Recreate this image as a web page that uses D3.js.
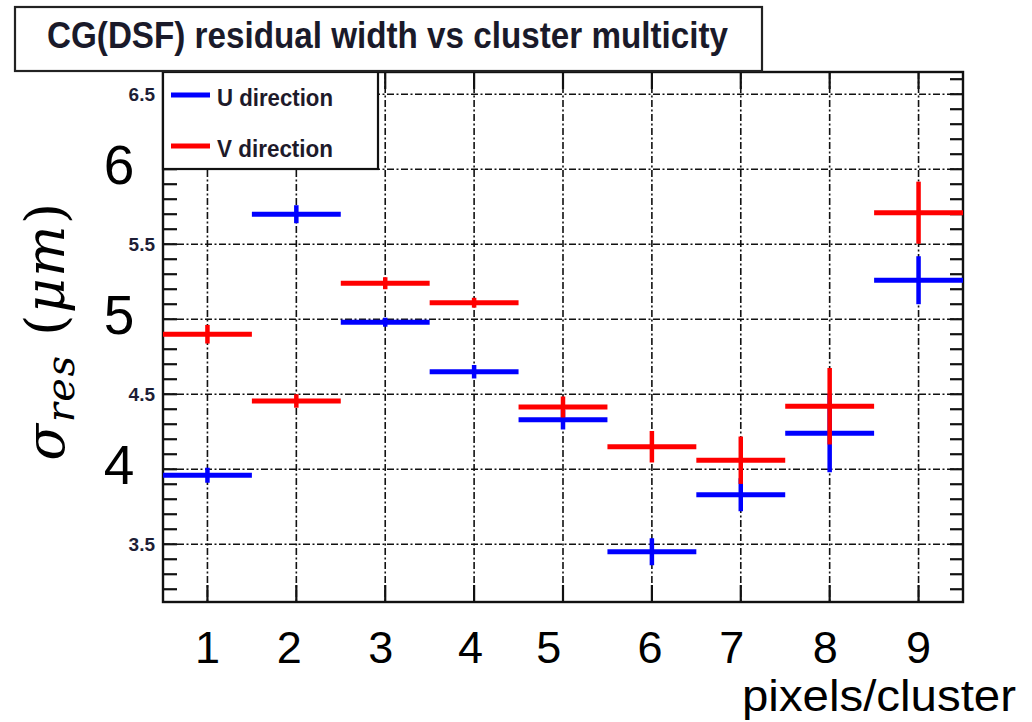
<!DOCTYPE html>
<html>
<head>
<meta charset="utf-8">
<script src="https://cdn.jsdelivr.net/npm/d3@7/dist/d3.min.js"></script>
<style>
  body { margin: 0; background: #fff; }
  .grid line { stroke: #111; stroke-width: 1.6; stroke-dasharray: 7,2.5,2,2.5; }
  .tick-mark { stroke: #111; stroke-width: 2.2; }
</style>
</head>
<body>
<div id="graphic"></div>
<script>
// data
var bins = [1, 2, 3, 4, 5, 6, 7, 8, 9];
var uValues = [3.96, 5.70, 4.98, 4.65, 4.33, 3.45, 3.83, 4.24, 5.26];
var uErrors = [0.05, 0.06, 0.03, 0.045, 0.065, 0.09, 0.11, 0.26, 0.16];
var vValues = [4.90, 4.455, 5.24, 5.11, 4.415, 4.15, 4.06, 4.42, 5.71];
var vErrors = [0.062, 0.045, 0.04, 0.033, 0.07, 0.105, 0.158, 0.255, 0.207];

var xTickLabels = ["1", "2", "3", "4", "5", "6", "7", "8", "9"];
var xLabelAt = [1.0, 1.92, 2.95, 3.96, 4.84, 5.98, 6.9, 7.95, 9.0];
var yGridValues = [3.5, 4, 4.5, 5, 5.5, 6, 6.5];
var ySmallLabels = ["3.5", "4.5", "5.5", "6.5"];
var yBigLabels = ["4", "5", "6"];

var seriesNames = ["U direction", "V direction"];
var seriesColors = ["#0000ff", "#ff0000"];

var titleText = "CG(DSF) residual width vs cluster multicity";
var xTitle = "pixels/cluster";

var width = 1032;
var height = 722;
var frame = { left: 163, right: 963, top: 72, bottom: 602 };

var svg, xScale, yScale;

function renderLayout() {
  svg = d3.select("#graphic")
    .append("svg")
    .attr("width", width)
    .attr("height", height)
    .style("font-family", "'Liberation Sans', Arial, sans-serif");
}

function defineScales() {
  xScale = d3.scaleLinear()
    .domain([0.5, 9.5])
    .range([frame.left, frame.right]);
  yScale = d3.scaleLinear()
    .domain([3.115, 6.648])
    .range([frame.bottom, frame.top]);
}

function renderGrid() {
  var g = svg.append("g").attr("class", "grid");
  g.selectAll("line.h")
    .data(yGridValues)
    .join("line")
    .attr("class", "h")
    .attr("x1", frame.left).attr("x2", frame.right)
    .attr("y1", d => yScale(d)).attr("y2", d => yScale(d));
  g.selectAll("line.v")
    .data(bins)
    .join("line")
    .attr("class", "v")
    .attr("x1", d => xScale(d)).attr("x2", d => xScale(d))
    .attr("y1", frame.top).attr("y2", frame.bottom);
}

function renderTicks() {
  var minor = d3.range(32, 67).map(d => d / 10);
  var g = svg.append("g");
  // left and right axis ticks, inward
  g.selectAll("line.yl")
    .data(minor)
    .join("line")
    .attr("class", "tick-mark")
    .attr("x1", frame.left).attr("x2", frame.left + 14)
    .attr("y1", d => yScale(d)).attr("y2", d => yScale(d));
  g.selectAll("line.yr")
    .data(minor)
    .join("line")
    .attr("class", "tick-mark")
    .attr("x1", frame.right).attr("x2", frame.right - 13)
    .attr("y1", d => yScale(d)).attr("y2", d => yScale(d));
  // top and bottom ticks at bins
  g.selectAll("line.xt")
    .data(bins)
    .join("line")
    .attr("class", "tick-mark")
    .attr("x1", d => xScale(d)).attr("x2", d => xScale(d))
    .attr("y1", frame.top).attr("y2", frame.top + 17);
  g.selectAll("line.xb")
    .data(bins)
    .join("line")
    .attr("class", "tick-mark")
    .attr("x1", d => xScale(d)).attr("x2", d => xScale(d))
    .attr("y1", frame.bottom).attr("y2", frame.bottom - 17);
}

function renderFrame() {
  svg.append("rect")
    .attr("x", frame.left)
    .attr("y", frame.top)
    .attr("width", frame.right - frame.left)
    .attr("height", frame.bottom - frame.top)
    .attr("fill", "none")
    .attr("stroke", "#111")
    .attr("stroke-width", 2.4);
}

function renderSeries(values, errors, color) {
  var data = bins.map((b, i) => ({ bin: b, value: values[i], err: errors[i] }));
  var g = svg.append("g")
    .attr("stroke", color)
    .attr("stroke-width", 5);
  g.selectAll("line.bar")
    .data(data)
    .join("line")
    .attr("x1", d => xScale(d.bin - 0.5))
    .attr("x2", d => xScale(d.bin + 0.5))
    .attr("y1", d => yScale(d.value))
    .attr("y2", d => yScale(d.value));
  g.selectAll("line.err")
    .data(data)
    .join("line")
    .attr("stroke-width", 4.5)
    .attr("x1", d => xScale(d.bin))
    .attr("x2", d => xScale(d.bin))
    .attr("y1", d => yScale(d.value - d.err))
    .attr("y2", d => yScale(d.value + d.err));
}

function renderLegend() {
  var g = svg.append("g");
  g.append("rect")
    .attr("x", frame.left)
    .attr("y", frame.top)
    .attr("width", 215)
    .attr("height", 97)
    .attr("fill", "#fff")
    .attr("stroke", "#111")
    .attr("stroke-width", 2.2);
  var rows = g.selectAll("g.entry")
    .data(seriesNames)
    .join("g")
    .attr("transform", (d, i) => "translate(" + (frame.left + 8) + "," + (95 + i * 51) + ")");
  rows.append("line")
    .attr("x1", 0).attr("x2", 39)
    .attr("stroke", (d, i) => seriesColors[i])
    .attr("stroke-width", 5);
  rows.append("text")
    .attr("x", 46)
    .attr("y", 11)
    .attr("font-size", 23)
    .attr("font-weight", "bold")
    .attr("fill", "#1e1a2a")
    .attr("textLength", 116)
    .attr("lengthAdjust", "spacingAndGlyphs")
    .text(d => d);
}

function renderLabels() {
  // title box
  svg.append("rect")
    .attr("x", 15).attr("y", 7)
    .attr("width", 747).attr("height", 64)
    .attr("fill", "#fff")
    .attr("stroke", "#222")
    .attr("stroke-width", 2.2);
  svg.append("text")
    .attr("x", 47).attr("y", 48)
    .attr("font-size", 37)
    .attr("font-weight", "bold")
    .attr("fill", "#1a1a2a")
    .attr("textLength", 681)
    .attr("lengthAdjust", "spacingAndGlyphs")
    .text(titleText);

  // small original tick labels
  svg.selectAll("text.ysmall")
    .data(ySmallLabels)
    .join("text")
    .attr("x", 155)
    .attr("y", d => yScale(+d) + 7)
    .attr("text-anchor", "end")
    .attr("font-size", 19)
    .attr("font-weight", "bold")
    .attr("fill", "#1e1e36")
    .text(d => d);

  // big overlaid tick labels
  svg.selectAll("text.ybig")
    .data(yBigLabels)
    .join("text")
    .attr("x", 119)
    .attr("y", d => yScale(+d) + 15)
    .attr("text-anchor", "middle")
    .attr("font-size", 55)
    .attr("fill", "#000")
    .text(d => d);

  svg.selectAll("text.xlab")
    .data(xTickLabels)
    .join("text")
    .attr("x", (d, i) => xScale(xLabelAt[i]))
    .attr("y", 663)
    .attr("text-anchor", "middle")
    .attr("font-size", 45)
    .attr("fill", "#000")
    .text(d => d);

  svg.append("text")
    .attr("x", 1016)
    .attr("y", 711)
    .attr("text-anchor", "end")
    .attr("font-size", 45)
    .attr("fill", "#000")
    .attr("textLength", 274)
    .attr("lengthAdjust", "spacingAndGlyphs")
    .text(xTitle);

  // y title: sigma_res (mu m)
  var yt = svg.append("text")
    .attr("transform", "translate(64,331) rotate(-90)")
    .attr("text-anchor", "middle")
    .attr("font-family", "'DejaVu Serif', serif")
    .attr("font-size", 54)
    .attr("letter-spacing", 1.5)
    .attr("fill", "#000");
  yt.append("tspan").attr("font-style", "italic").text("σ");
  yt.append("tspan").attr("font-style", "italic").attr("font-size", 40).attr("dy", 10).text("res");
  yt.append("tspan").attr("dy", -10).text(" (");
  yt.append("tspan").attr("font-style", "italic").text("μm");
  yt.append("tspan").text(")");
}

renderLayout();
defineScales();
renderGrid();
renderTicks();
renderFrame();
renderSeries(uValues, uErrors, seriesColors[0]);
renderSeries(vValues, vErrors, seriesColors[1]);
renderLegend();
renderLabels();
</script>
</body>
</html>
